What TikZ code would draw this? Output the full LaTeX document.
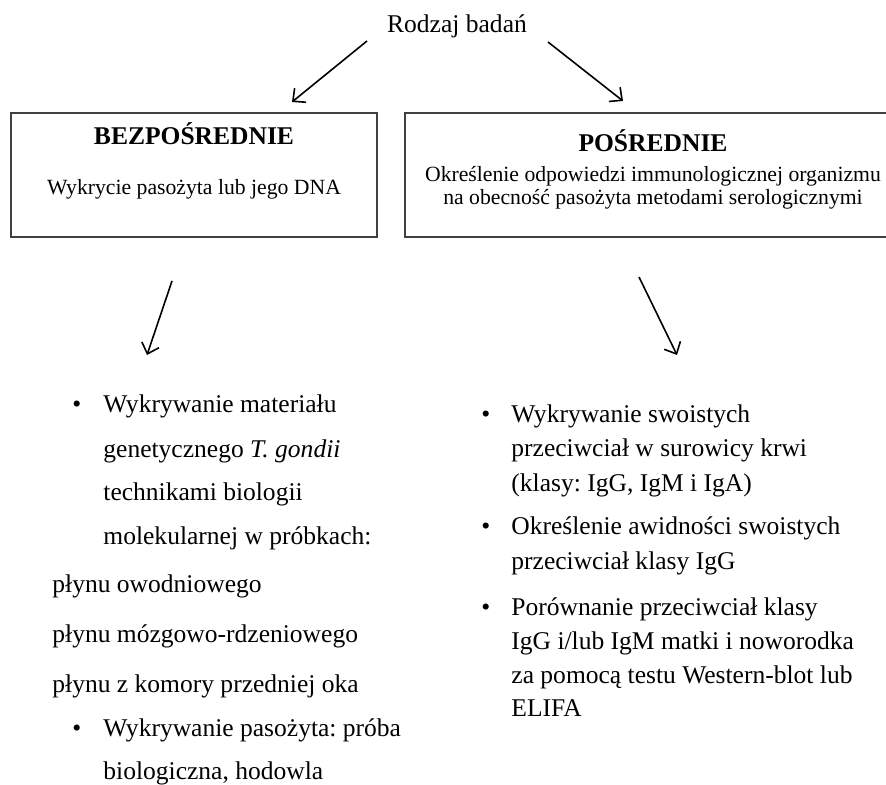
\documentclass[tikz,border=0pt]{standalone}
\usepackage{fontspec}
\setmainfont{Liberation Serif}
\usetikzlibrary{arrows.meta}
\frenchspacing

\begin{document}
\begin{tikzpicture}[x=0.47pt,y=-0.47pt,every node/.style={font=\fontsize{12}{14}\selectfont,inner sep=0pt},
  txt/.style={anchor=base west},
  boxtxt/.style={anchor=base,font=\fontsize{10.2}{11}\selectfont},
  title/.style={anchor=base,font=\fontsize{12}{14}\selectfont\bfseries},
  arr/.style={line width=.75pt,-{Straight Barb[length=4.5pt,width=8.5pt]}}]
\useasboundingbox (0,0) rectangle (886,785);
\clip (0,0) rectangle (886,785);
% top
\node[anchor=base] (rodzaj) at (457,33) {Rodzaj badań};
\coordinate (a1) at (367,41);
\coordinate (a2) at (292,102);
\coordinate (b1) at (548,42);
\coordinate (b2) at (623,101);
\draw[arr] (a1)--(a2);
\draw[arr] (b1)--(b2);
% boxes
\draw[line width=.6pt,black!75] (11,113) rectangle (377,237);
\draw[line width=.6pt,black!75] (405,113) rectangle (892,237);
\node[title] (bezp) at (194,145) {BEZPOŚREDNIE};
\node[boxtxt] (bezpopis) at (194,195) {Wykrycie pasożyta lub jego DNA};
\node[title] (posr) at (653,152) {POŚREDNIE};
\node[boxtxt] (posropis1) at (653,182) {Określenie odpowiedzi immunologicznej organizmu};
\node[boxtxt] (posropis2) at (653,205) {na obecność pasożyta metodami serologicznymi};
% arrows down
\coordinate (c1) at (172,281);
\coordinate (c2) at (147,355);
\coordinate (d1) at (639,277);
\coordinate (d2) at (677,355);
\draw[arr] (c1)--(c2);
\draw[arr] (d1)--(d2);
% left list
\node[txt] (lb1) at (72,413) {\textbullet};
\node[txt] (l1) at (103,413) {Wykrywanie materiału};
\node[txt] (l2) at (103,458) {genetycznego \textit{T. gondii}};
\node[txt] (l3) at (103,501) {technikami biologii};
\node[txt] (l4) at (103,545) {molekularnej w próbkach:};
\node[txt] (p1) at (52,593) {płynu owodniowego};
\node[txt] (p2) at (52,643) {płynu mózgowo-rdzeniowego};
\node[txt] (p3) at (52,693) {płynu z komory przedniej oka};
\node[txt] (lb2) at (72,737) {\textbullet};
\node[txt] (l5) at (103,737) {Wykrywanie pasożyta: próba};
\node[txt] (l6) at (103,780) {biologiczna, hodowla};
% right list
\node[txt] (rb1) at (481,423) {\textbullet};
\node[txt] (r1) at (511,423) {Wykrywanie swoistych};
\node[txt] (r2) at (511,457) {przeciwciał w surowicy krwi};
\node[txt] (r3) at (511,492) {(klasy: IgG, IgM i IgA)};
\node[txt] (rb2) at (481,535) {\textbullet};
\node[txt] (r4) at (511,535) {Określenie awidności swoistych};
\node[txt] (r5) at (511,570) {przeciwciał klasy IgG};
\node[txt] (rb3) at (481,616) {\textbullet};
\node[txt] (r6) at (511,616) {Porównanie przeciwciał klasy};
\node[txt] (r7) at (511,650) {IgG i/lub IgM matki i noworodka};
\node[txt] (r8) at (511,684) {za pomocą testu Western-blot lub};
\node[txt] (r9) at (511,717) {ELIFA};
\end{tikzpicture}
\end{document}
